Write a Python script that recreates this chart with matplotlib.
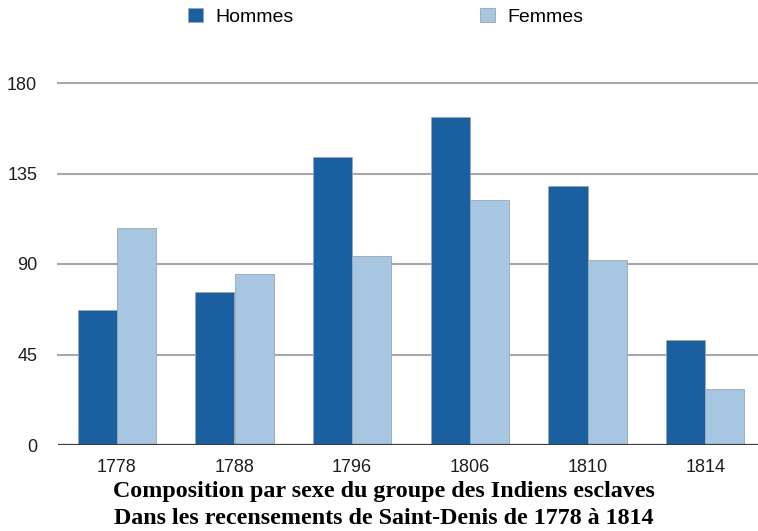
import matplotlib
matplotlib.use("Agg")
import matplotlib.pyplot as plt
import numpy as np
from matplotlib.patches import Patch

years = ["1778", "1788", "1796", "1806", "1810", "1814"]
hommes = [67, 76, 143, 163, 129, 52]
femmes = [108, 85, 94, 122, 92, 28]
yticks = [0, 45, 90, 135, 180]
series_labels = ["Hommes", "Femmes"]
title_lines = ["Composition par sexe du groupe des Indiens esclaves",
               "Dans les recensements de Saint-Denis de 1778 à 1814"]

c_h = "#1a60a0"
c_f = "#a6c6e1"
edge = "#9aa6b2"

sans = ["Liberation Sans", "DejaVu Sans"]
serif = ["Liberation Serif", "DejaVu Serif"]

fig = plt.figure(figsize=(7.58, 5.31), dpi=100)
ax = fig.add_axes([58/758, (531-445)/531, (764-58)/758, (445-83)/531])

x = np.arange(len(years))
w = 1/3
ax.bar(x - w/2, hommes, width=w, color=c_h, edgecolor=edge, linewidth=0.6, zorder=3)
ax.bar(x + w/2, femmes, width=w, color=c_f, edgecolor=edge, linewidth=0.6, zorder=3)

ax.set_xlim(-0.5, len(years) - 0.5)
ax.set_ylim(0, 180)
ax.set_yticks(yticks)
ax.set_yticklabels([str(v) for v in yticks], family=sans, fontsize=13)
ax.set_xticks(x)
ax.set_xticklabels(years, family=sans, fontsize=13)
ax.tick_params(axis="both", length=0, colors="#1e1e1e")
ax.tick_params(axis="y", pad=15)
ax.tick_params(axis="x", pad=10)
for s in ax.spines.values():
    s.set_visible(False)
for v in yticks[1:]:
    ax.axhline(v, color="#a8a8a8", linewidth=1.5, zorder=1, clip_on=False)
ax.axhline(0, color="#3c3c3c", linewidth=1.6, zorder=4)

handles = [Patch(facecolor=c_h, edgecolor=edge, linewidth=0.6),
           Patch(facecolor=c_f, edgecolor=edge, linewidth=0.6)]
fig.legend(handles, series_labels, loc="upper left", bbox_to_anchor=(188/758, 1 - 8/531),
           ncol=2, frameon=False, prop={"family": sans, "size": 14},
           handlelength=0.77, handleheight=0.77, handletextpad=0.62, columnspacing=9.6,
           borderpad=0, borderaxespad=0)

fig.text(384/758, 1 - 497/531, title_lines[0], ha="center", va="baseline",
         family=serif, fontweight="bold", fontsize=17.3)
fig.text(384/758, 1 - 524/531, title_lines[1], ha="center", va="baseline",
         family=serif, fontweight="bold", fontsize=17.3)

fig.savefig("out.png", dpi=100)
